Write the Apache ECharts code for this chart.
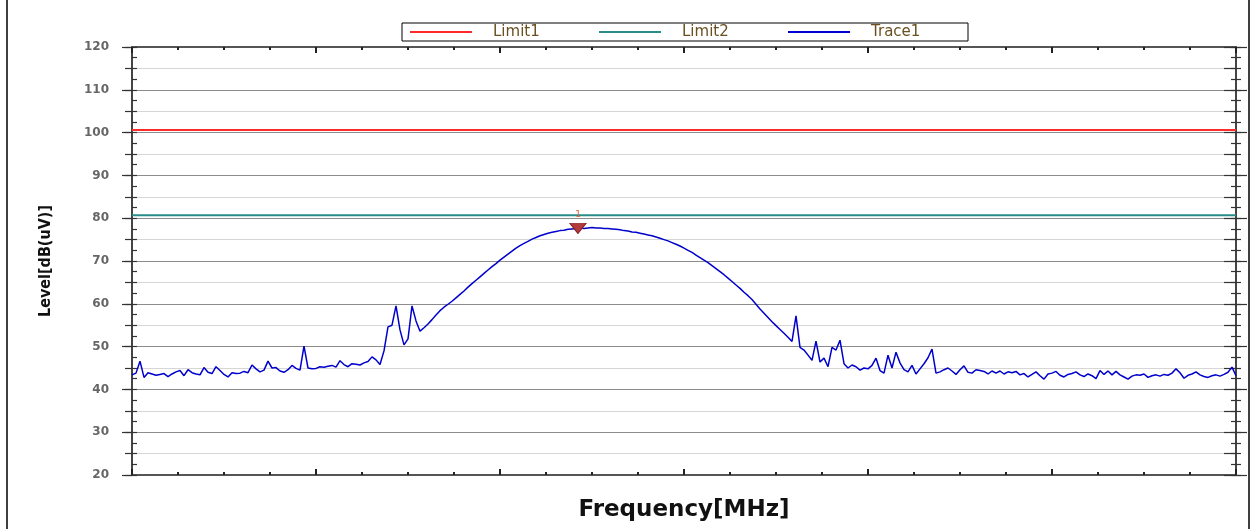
<!DOCTYPE html>
<html>
<head>
<meta charset="utf-8">
<script src="https://cdn.jsdelivr.net/npm/echarts@6/dist/echarts.min.js"></script>
<style>
html,body{margin:0;padding:0;background:#fff;}
#chart{width:1251px;height:529px;}
</style>
</head>
<body>
<div id="chart"></div>
<script>
// ---- data ----
var seriesNames = ['Limit1', 'Limit2', 'Trace1'];
var limit1Level = 100.6;
var limit2Level = 80.7;
var freqMin = 0, freqMax = 276;          // sample index span of the sweep
var levelMin = 20, levelMax = 120;
var yTickLabels = [20, 30, 40, 50, 60, 70, 80, 90, 100, 110, 120];

var leftNoise = [43.4,43.8,46.6,42.8,43.9,43.6,43.3,43.5,43.7,43.0,
  43.6,44.1,44.4,43.2,44.6,43.9,43.6,43.4,45.1,44.0,
  43.7,45.3,44.4,43.5,42.9,43.9,43.7,43.8,44.2,43.9,
  45.7,44.8,44.1,44.5,46.6,45.0,45.1,44.3,44.0,44.6,
  45.6,44.9,44.5,50.1,45.0,44.8,44.9,45.3,45.2,45.4,
  45.6,45.2,46.7,45.8,45.3,46.0,45.9,45.7,46.2,46.5,
  47.6,46.9];
var leftSpikes = [45.8,49.0,54.6,55.0,59.5,53.9,50.4,51.8,59.5,56.0];
var mainLobe = [53.6,54.4,55.3,56.3,57.4,58.4,59.2,59.9,60.6,61.4,
  62.2,63.0,63.9,64.7,65.5,66.3,67.1,67.9,68.7,69.4,
  70.2,70.9,71.6,72.3,73.0,73.6,74.1,74.6,75.1,75.5,
  75.9,76.2,76.5,76.7,76.9,77.1,77.2,77.4,77.5,77.6,
  77.7,77.6,77.7,77.8,77.7,77.7,77.6,77.6,77.5,77.4,
  77.3,77.1,77.0,76.8,76.7,76.5,76.3,76.1,75.9,75.6,
  75.3,75.0,74.7,74.3,73.9,73.5,73.0,72.5,72.0,71.4,
  70.8,70.2,69.6,68.9,68.2,67.5,66.8,66.0,65.2,64.4,
  63.6,62.7,61.9,61.0,59.9,58.8];
var rightSpikes = [57.8,56.8,55.8,54.9,54.0,53.1,52.2,51.2,57.2,49.8,
  49.2,48.0,46.8,51.3,46.4,47.3,45.3,49.8,49.2,51.5,
  46.0,45.0,45.7,45.3,44.5,45.0,44.8,45.6,47.3,44.4,
  43.8,48.0,45.0,48.7,46.2,44.6,44.1,45.6,43.6,44.8,
  46.0,47.4,49.4,43.8,44.1,44.6,45.0,44.3,43.5,44.6,
  45.5,44.0,43.8,44.6,44.4,44.2,43.6,44.3];
var rightNoise = [43.8,44.3,43.6,44.1,43.9,44.2,43.4,43.7,42.9,43.5,
  44.1,43.2,42.4,43.6,43.8,44.2,43.3,42.9,43.5,43.7,
  44.1,43.4,43.0,43.6,43.2,42.5,44.4,43.5,44.3,43.4,
  44.2,43.4,42.9,42.4,43.1,43.4,43.3,43.6,42.8,43.2,
  43.4,43.1,43.5,43.3,43.8,44.8,43.9,42.6,43.3,43.6,
  44.1,43.4,43.0,42.8,43.2,43.4,43.1,43.5,44.0,45.2,
  43.2];
var markerFreq = 111.5, markerLevel = 77.6, markerLabel = '1';

// ---- build ----
var traceLevels = [].concat(leftNoise, leftSpikes, mainLobe, rightSpikes, rightNoise);
var traceData = traceLevels.map(function (v, i) { return [i, v]; });

var tickColor = '#333';
function yAux(pos, interval, inside, len, showLine) {
  return {
    type: 'value', position: pos, min: levelMin, max: levelMax, interval: interval,
    axisLine: { show: !!showLine, lineStyle: { color: '#444', width: 2 } },
    axisTick: { show: true, inside: inside, length: len, lineStyle: { color: tickColor, width: 1.2 } },
    axisLabel: { show: false }, splitLine: { show: false }
  };
}
function xAxisCfg(pos) {
  return {
    type: 'value', position: pos, min: freqMin, max: freqMax, interval: 46,
    axisLine: { show: true, lineStyle: { color: '#555', width: 2 } },
    axisTick: { show: true, inside: true, length: 6, lineStyle: { color: '#222', width: 2 } },
    minorTick: { show: true, splitNumber: 4, length: 3, lineStyle: { color: '#222', width: 2 } },
    axisLabel: { show: false }, splitLine: { show: false }
  };
}

var xBottom = xAxisCfg('bottom');
xBottom.name = 'Frequency[MHz]';
xBottom.nameLocation = 'middle';
xBottom.nameGap = 24;
xBottom.nameTextStyle = { fontFamily: 'DejaVu Sans', fontWeight: 'bold', fontSize: 23, color: '#111' };

var yMain = {
  type: 'value', position: 'left', min: levelMin, max: levelMax, interval: 10,
  name: 'Level[dB(uV)]', nameLocation: 'middle', nameGap: 78,
  nameTextStyle: { fontFamily: "'DejaVu Sans Condensed','Liberation Sans Narrow',sans-serif", fontWeight: 'bold', fontSize: 16, color: '#111' },
  axisLine: { show: true, lineStyle: { color: '#444', width: 2 } },
  axisTick: { show: true, inside: false, length: 10, lineStyle: { color: tickColor, width: 1.2 } },
  axisLabel: {
    show: true, margin: 23, color: '#666', fontFamily: 'DejaVu Sans', fontWeight: 'bold', fontSize: 12,
    customValues: yTickLabels
  },
  splitLine: { show: true, lineStyle: { color: '#8c8c8c', width: 1 } },
  minorTick: { show: false, splitNumber: 2 },
  minorSplitLine: { show: true, lineStyle: { color: '#d6d6d6', width: 1 } }
};

var option = {
  animation: false,
  backgroundColor: '#fff',
  grid: { left: 132, right: 15, top: 47, bottom: 54, containLabel: false },
  legend: {
    data: seriesNames, left: 402, top: 23,
    orient: 'horizontal',
    borderColor: '#000', borderWidth: 1, padding: [1, 7, 1, 7],
    itemWidth: 62, itemHeight: 14, itemGap: 15,
    itemStyle: { opacity: 0 },
    textStyle: { fontFamily: 'DejaVu Sans', fontSize: 15, color: '#6a5020', width: 90, padding: [0, 0, 0, 16], lineHeight: 16 }
  },
  xAxis: [xBottom, xAxisCfg('top')],
  yAxis: [
    yMain,
    yAux('left', 2.5, true, 5),
    yAux('left', 5, false, 7),
    yAux('right', 10, false, 11, true),
    yAux('right', 2.5, true, 5),
    yAux('right', 2.5, false, 5),
    yAux('right', 5, true, 12)
  ],
  graphic: [{
    type: 'rect', silent: true, z: -1,
    shape: { x: 7, y: -2, width: 1242, height: 533 },
    style: { fill: 'none', stroke: '#000', lineWidth: 1.5 }
  }],
  series: [
    {
      name: seriesNames[0], type: 'line', symbol: 'none', xAxisIndex: 0, yAxisIndex: 0,
      data: [[freqMin, limit1Level], [freqMax, limit1Level]],
      lineStyle: { color: '#ff2a2a', width: 2 }, itemStyle: { color: '#ff2a2a' }, z: 3
    },
    {
      name: seriesNames[1], type: 'line', symbol: 'none', xAxisIndex: 0, yAxisIndex: 0,
      data: [[freqMin, limit2Level], [freqMax, limit2Level]],
      lineStyle: { color: '#2a8c8a', width: 2 }, itemStyle: { color: '#2a8c8a' }, z: 3
    },
    {
      name: seriesNames[2], type: 'line', symbol: 'none', xAxisIndex: 0, yAxisIndex: 0,
      data: traceData,
      lineStyle: { color: '#0000cc', width: 1.5 }, itemStyle: { color: '#0000cc' }, z: 4,
      markPoint: {
        symbol: 'triangle', symbolRotate: 180, symbolSize: [16, 10],
        itemStyle: { color: '#b23c3c', borderColor: '#8a2424', borderWidth: 1, opacity: 1 },
        label: { show: true, position: 'top', distance: 4, formatter: markerLabel, color: '#e0603a', fontSize: 9, fontFamily: 'DejaVu Sans' },
        data: [{ coord: [markerFreq, markerLevel] }]
      }
    }
  ]
};

var chart = echarts.init(document.getElementById('chart'), null, { renderer: 'canvas' });
chart.setOption(option);
</script>
</body>
</html>
